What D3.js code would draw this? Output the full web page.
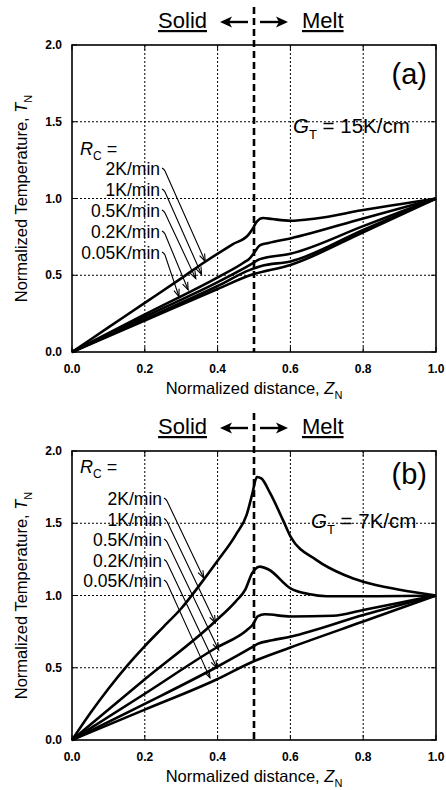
<!DOCTYPE html>
<html>
<head>
<meta charset="utf8" />
<script src="https://cdn.jsdelivr.net/npm/d3@7"></script>
<style>
  body { margin: 0; background: #fff; }
  text { font-family: "Liberation Sans", Arial, sans-serif; fill: #000; }
  .tick-label { font-size: 12px; font-weight: bold; }
  .grid { stroke: #000; stroke-width: 1; stroke-dasharray: 2,2; }
  .curve { fill: none; stroke: #000; stroke-width: 2.6; }
  .arrow { fill: none; stroke: #000; stroke-width: 1.1; }
</style>
</head>
<body>
<script>
// ---- data ----
var xTicks = [0, 0.2, 0.4, 0.6, 0.8, 1.0];
var yTicks = [0, 0.5, 1.0, 1.5, 2.0];
var rates = ["2K/min", "1K/min", "0.5K/min", "0.2K/min", "0.05K/min"];
var interfaceZ = 0.5;

// panel (a), G_T = 15K/cm  -- [Z_N, T_N]
var a2K = [[0,0],[0.1,0.16],[0.2,0.32],[0.3,0.48],[0.366,0.588],[0.44,0.70],[0.485,0.765],[0.497,0.805],[0.507,0.848],[0.525,0.873],[0.55,0.866],[0.6,0.855],[0.67,0.87],[0.8,0.925],[0.9,0.963],[1,1]];
var a1K = [[0,0],[0.2,0.245],[0.403,0.49],[0.47,0.58],[0.489,0.612],[0.5,0.645],[0.516,0.695],[0.54,0.71],[0.6,0.74],[0.8,0.87],[1,1]];
var a05K = [[0,0],[0.2,0.23],[0.403,0.458],[0.489,0.567],[0.516,0.605],[0.6,0.64],[0.8,0.82],[1,1]];
var a02K = [[0,0],[0.2,0.215],[0.4,0.43],[0.489,0.535],[0.52,0.56],[0.6,0.59],[0.8,0.795],[1,1]];
var a005K = [[0,0],[0.2,0.205],[0.4,0.41],[0.489,0.50],[0.6,0.567],[0.8,0.78],[1,1]];
var aTips = [[0.366,0.59],[0.356,0.505],[0.34,0.478],[0.319,0.405],[0.294,0.36]];

// panel (b), G_T = 7K/cm
var b2K = [[0,0],[0.05,0.185],[0.1,0.355],[0.15,0.51],[0.2,0.65],[0.25,0.78],[0.3,0.91],[0.35,1.07],[0.4,1.24],[0.45,1.42],[0.48,1.56],[0.495,1.70],[0.508,1.82],[0.52,1.81],[0.544,1.71],[0.58,1.52],[0.6,1.41],[0.672,1.245],[0.75,1.14],[0.8,1.095],[0.9,1.04],[1,1]];
var b1K = [[0,0],[0.2,0.42],[0.393,0.82],[0.45,0.96],[0.476,1.04],[0.495,1.155],[0.516,1.2],[0.54,1.18],[0.6,1.05],[0.65,1.01],[0.7,0.995],[0.8,0.995],[1,1]];
var b05K = [[0,0],[0.2,0.32],[0.394,0.635],[0.48,0.76],[0.497,0.80],[0.51,0.855],[0.53,0.87],[0.6,0.855],[0.717,0.86],[0.8,0.9],[0.9,0.95],[1,1]];
var b02K = [[0,0],[0.2,0.25],[0.394,0.50],[0.49,0.635],[0.51,0.665],[0.55,0.69],[0.6,0.715],[0.8,0.865],[1,1]];
var b005K = [[0,0],[0.2,0.21],[0.394,0.415],[0.495,0.54],[0.6,0.64],[0.8,0.82],[1,1]];
var bTips = [[0.362,1.12],[0.394,0.81],[0.403,0.623],[0.398,0.498],[0.379,0.43]];

// ---- layout ----
var W = 446, H = 790;
var panels = [
  { top: 45, bottom: 352, tag: "(a)", tagY: 84, grad: "15K/cm", gX: 293, gY: 133,
    rcY: 155, labY: 175, labStep: 21, labX: 160,
    curves: [a2K, a1K, a05K, a02K, a005K], tips: aTips },
  { top: 451, bottom: 740, tag: "(b)", tagY: 484, grad: "7K/cm", gX: 311, gY: 528,
    rcY: 473, labY: 505, labStep: 20.5, labX: 162,
    curves: [b2K, b1K, b05K, b02K, b005K], tips: bTips }
];

var svg = d3.select("body").append("svg")
  .attr("width", W).attr("height", H);

var x = d3.scaleLinear().domain([0, 1]).range([72, 436]);

panels.forEach(function(p) {
  var y = d3.scaleLinear().domain([0, 2]).range([p.bottom, p.top]);
  var g = svg.append("g");

  // grid
  g.selectAll(".gx").data(xTicks.slice(1, -1)).enter().append("line")
    .attr("class", "grid")
    .attr("x1", d => x(d)).attr("x2", d => x(d))
    .attr("y1", p.top).attr("y2", p.bottom);
  g.selectAll(".gy").data(yTicks.slice(1, -1)).enter().append("line")
    .attr("class", "grid")
    .attr("x1", x(0)).attr("x2", x(1))
    .attr("y1", d => y(d)).attr("y2", d => y(d));

  // inward ticks
  var tl = 5;
  xTicks.forEach(function(t) {
    g.append("line").attr("stroke", "#000").attr("stroke-width", 1)
      .attr("x1", x(t)).attr("x2", x(t)).attr("y1", p.bottom).attr("y2", p.bottom - tl);
    g.append("line").attr("stroke", "#000").attr("stroke-width", 1)
      .attr("x1", x(t)).attr("x2", x(t)).attr("y1", p.top).attr("y2", p.top + tl);
  });
  yTicks.forEach(function(t) {
    g.append("line").attr("stroke", "#000").attr("stroke-width", 1)
      .attr("x1", x(0)).attr("x2", x(0) + tl).attr("y1", y(t)).attr("y2", y(t));
    g.append("line").attr("stroke", "#000").attr("stroke-width", 1)
      .attr("x1", x(1)).attr("x2", x(1) - tl).attr("y1", y(t)).attr("y2", y(t));
  });

  // frame
  g.append("rect")
    .attr("x", x(0)).attr("y", p.top)
    .attr("width", x(1) - x(0)).attr("height", p.bottom - p.top)
    .attr("fill", "none").attr("stroke", "#000").attr("stroke-width", 1.6);

  // tick labels
  g.selectAll(".xl").data(xTicks).enter().append("text")
    .attr("class", "tick-label").attr("text-anchor", "middle")
    .attr("x", d => x(d)).attr("y", p.bottom + 21)
    .text(d => d.toFixed(1));
  g.selectAll(".yl").data(yTicks).enter().append("text")
    .attr("class", "tick-label").attr("text-anchor", "end")
    .attr("x", 62).attr("y", d => y(d) + 4)
    .text(d => d.toFixed(1));

  // interface dashed line
  g.append("line")
    .attr("x1", x(interfaceZ)).attr("x2", x(interfaceZ))
    .attr("y1", p.top - 38).attr("y2", p.bottom)
    .attr("stroke", "#000").attr("stroke-width", 2.6)
    .attr("stroke-dasharray", "7,4");

  // curves
  var line = d3.line().x(d => x(d[0])).y(d => y(d[1])).curve(d3.curveMonotoneX);
  g.selectAll(".curve").data(p.curves).enter().append("path")
    .attr("class", "curve").attr("d", line);

  // labels and arrows
  rates.forEach(function(r, i) {
    var ly = p.labY + i * p.labStep;
    g.append("text").attr("x", p.labX).attr("y", ly)
      .attr("text-anchor", "end").style("font-size", "17.5px").text(r);
    var x0 = p.labX + 4, y0 = ly - 4;
    var tx = x(p.tips[i][0]), ty = y(p.tips[i][1]);
    g.append("path").attr("class", "arrow")
      .attr("d", "M" + (x0 - 2) + "," + (y0 - 3) + "Q" + x0 + "," + (y0 - 2) + " " + (x0 + 1) + "," + y0 + "L" + tx + "," + ty);
    var ang = Math.atan2(ty - y0, tx - x0), hl = 8, ha = 0.35;
    g.append("path").attr("class", "arrow")
      .attr("d", "M" + (tx - hl * Math.cos(ang - ha)) + "," + (ty - hl * Math.sin(ang - ha)) +
        "L" + tx + "," + ty +
        "L" + (tx - hl * Math.cos(ang + ha)) + "," + (ty - hl * Math.sin(ang + ha)));
  });

  // R_C =
  var rc = g.append("text").attr("x", 80).attr("y", p.rcY).style("font-size", "18px");
  rc.append("tspan").style("font-style", "italic").text("R");
  rc.append("tspan").attr("dy", 5).style("font-size", "12px").text("C");
  rc.append("tspan").attr("dy", -5).text(" =");

  // G_T
  var gt = g.append("text").attr("x", p.gX).attr("y", p.gY).style("font-size", "20.5px");
  gt.append("tspan").style("font-style", "italic").text("G");
  gt.append("tspan").attr("dy", 6).style("font-size", "13px").text("T");
  gt.append("tspan").attr("dy", -6).text(" = " + p.grad);

  // panel tag
  g.append("text").attr("x", 427).attr("y", p.tagY)
    .attr("text-anchor", "end").style("font-size", "29px").text(p.tag);

  // Solid / Melt header
  var hy = p.top - 17;
  g.append("text").attr("x", 207).attr("y", hy).attr("text-anchor", "end")
    .style("font-size", "22px").style("text-decoration", "underline").text("Solid");
  g.append("text").attr("x", 302).attr("y", hy)
    .style("font-size", "22px").style("text-decoration", "underline").text("Melt");
  [[248, 220], [260, 288]].forEach(function(a) {
    var ay = hy - 6, dir = Math.sign(a[1] - a[0]);
    g.append("line").attr("x1", a[0]).attr("x2", a[1] - dir * 6)
      .attr("y1", ay).attr("y2", ay).attr("stroke", "#000").attr("stroke-width", 2.4);
    g.append("path").attr("fill", "#000")
      .attr("d", "M" + a[1] + "," + ay + "L" + (a[1] - dir * 12) + "," + (ay - 5.5) +
        "L" + (a[1] - dir * 9) + "," + ay + "L" + (a[1] - dir * 12) + "," + (ay + 5.5) + "Z");
  });

  // axis titles
  var xt = g.append("text").attr("x", (x(0) + x(1)) / 2).attr("y", p.bottom + 42)
    .attr("text-anchor", "middle").style("font-size", "16.5px");
  xt.append("tspan").text("Normalized distance, ");
  xt.append("tspan").style("font-style", "italic").text("Z");
  xt.append("tspan").attr("dy", 5).style("font-size", "11px").text("N");

  var yt = g.append("text")
    .attr("transform", "translate(27," + ((p.top + p.bottom) / 2) + ") rotate(-90)")
    .attr("text-anchor", "middle").style("font-size", "16.5px");
  yt.append("tspan").text("Normalized Temperature, ");
  yt.append("tspan").style("font-style", "italic").text("T");
  yt.append("tspan").attr("dy", 5).style("font-size", "11px").text("N");
});
</script>
</body>
</html>
